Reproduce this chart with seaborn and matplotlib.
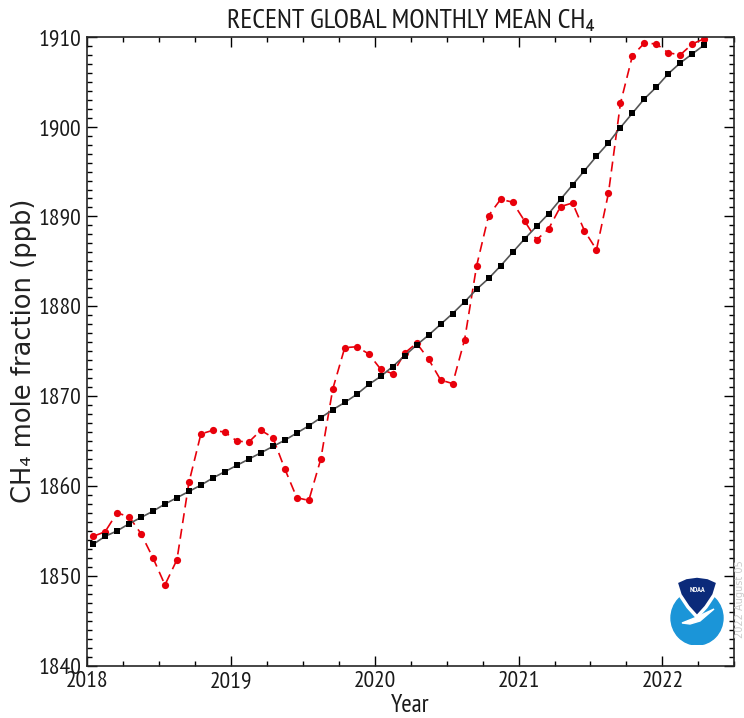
import matplotlib
matplotlib.use("Agg")
import matplotlib.pyplot as plt
from matplotlib.patches import Ellipse, Polygon
from matplotlib.ticker import MultipleLocator
import seaborn as sns
import pandas as pd

# monthly global mean CH4 (ppb), Jan 2018 - Apr 2022
years = [2018] * 12 + [2019] * 12 + [2020] * 12 + [2021] * 12 + [2022] * 4
months = list(range(1, 13)) * 4 + [1, 2, 3, 4]
monthly = [1854.4, 1854.9, 1857.0, 1856.6, 1854.7, 1852.0, 1849.0, 1851.8, 1860.4, 1865.8, 1866.2, 1866.0,
           1865.0, 1864.9, 1866.2, 1865.4, 1861.9, 1858.7, 1858.4, 1863.0, 1870.8, 1875.4, 1875.5, 1874.7,
           1873.0, 1872.5, 1874.8, 1875.9, 1874.1, 1871.8, 1871.4, 1876.3, 1884.5, 1890.1, 1891.9, 1891.6,
           1889.5, 1887.4, 1888.6, 1891.1, 1891.5, 1888.4, 1886.3, 1892.6, 1902.6, 1907.9, 1909.3, 1909.2,
           1908.2, 1908.0, 1909.2, 1909.8]
trend = [1853.5, 1854.4, 1855.0, 1855.8, 1856.5, 1857.2, 1858.0, 1858.7, 1859.4, 1860.1, 1860.9, 1861.6,
         1862.3, 1863.0, 1863.7, 1864.4, 1865.1, 1865.9, 1866.7, 1867.6, 1868.5, 1869.3, 1870.2, 1871.3,
         1872.2, 1873.3, 1874.5, 1875.7, 1876.8, 1878.0, 1879.2, 1880.5, 1881.9, 1883.1, 1884.5, 1886.0,
         1887.5, 1888.9, 1890.3, 1891.9, 1893.5, 1895.1, 1896.7, 1898.2, 1899.9, 1901.5, 1903.1, 1904.4,
         1905.9, 1907.1, 1908.1, 1909.1]
year_ticks = [2018, 2019, 2020, 2021, 2022]

df = pd.DataFrame({'year': years, 'month': months, 'monthly': monthly, 'trend': trend})
df['date'] = df['year'] + (df['month'] - 0.5) / 12

sns.set_style("ticks")
narrow = ['PT Sans Narrow', 'DejaVu Sans']

fig = plt.figure(figsize=(7.44, 7.18), dpi=100)
ax = fig.add_axes([0.117, 0.0728, 0.870, 0.876])

sns.lineplot(data=df, x='date', y='monthly', ax=ax, color='#e8000b', linestyle=(0, (6, 3.5)),
             linewidth=1.2, marker='o', markersize=5.2,
             markeredgewidth=0, markerfacecolor='#e8000b')
sns.lineplot(data=df, x='date', y='trend', ax=ax, color='#555555', linewidth=1.2,
             marker='s', markersize=4, markerfacecolor='black', markeredgewidth=0)

ax.set_xlim(2018, 2022.5)
ax.set_ylim(1840, 1910)
ax.set_xticks(year_ticks)
ax.set_xticklabels([str(y) for y in year_ticks])
ax.xaxis.set_minor_locator(MultipleLocator(0.25))
ax.yaxis.set_major_locator(MultipleLocator(10))
ax.yaxis.set_minor_locator(MultipleLocator(1))
ax.tick_params(which='both', direction='in', top=True, right=True, color='black')
ax.tick_params(which='major', length=7, width=1, pad=4)
ax.tick_params(which='minor', length=3.5, width=1)
for lab in ax.get_xticklabels() + ax.get_yticklabels():
    lab.set_family(narrow)
    lab.set_fontsize(17)
    lab.set_color('#1a1a1a')
for s in ax.spines.values():
    s.set_linewidth(1.2)

ax.set_title('RECENT GLOBAL MONTHLY MEAN CH₄', family=narrow, fontsize=20, pad=6,
             color='#1a1a1a')
ax.set_xlabel('Year', family=narrow, fontsize=18, labelpad=1, color='#1a1a1a')
ax.set_ylabel('CH₄ mole fraction (ppb)', family='DejaVu Sans', fontsize=18.5, labelpad=1,
              color='#222222')

fig.text(0.995, 0.165, '2022 August 05', rotation=90, color='#cccccc', fontsize=7,
         ha='center', va='center')

# NOAA logo
lax = fig.add_axes([670 / 744, (718 - 645) / 718, 54 / 744, 69 / 718])
lax.set_xlim(0, 54)
lax.set_ylim(0, 69)
lax.axis('off')
lax.add_patch(Ellipse((27, 27), 52, 54, color='#1b95d8'))
navy = [[6, 63], [16, 67.5], [27, 69], [38, 67.5], [48, 63], [44, 50], [36, 38],
        [27, 28], [18, 38], [10, 50]]
lax.add_patch(Polygon(navy, closed=True, facecolor='#0b2a7a', edgecolor='white', linewidth=2.5))
lax.add_patch(Polygon([[12, 22], [27, 28], [44, 36], [30, 24], [20, 21]], closed=True,
                      color='white'))
lax.text(27, 55, 'NOAA', color='white', fontsize=5.5, ha='center', va='center',
         family=narrow, fontweight='bold')

fig.savefig('out.png', dpi=100)
